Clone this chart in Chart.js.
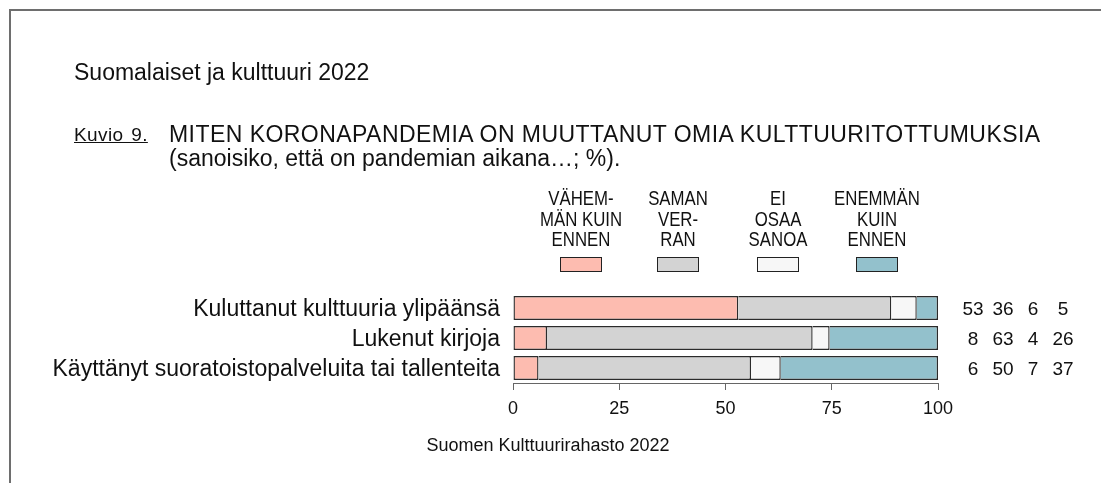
<!DOCTYPE html>
<html>
<head>
<meta charset="utf-8">
<script src="https://cdn.jsdelivr.net/npm/chart.js@4"></script>
<style>
  body { margin: 0; background: #fff; }
  #wrap { position: relative; width: 1101px; height: 483px; overflow: hidden;
          font-family: "Liberation Sans", Arial, sans-serif; color: #111; }
  #frame { position: absolute; left: 9px; top: 9px; width: 1100px; height: 480px;
           border-top: 2px solid #6e6e6e; border-left: 2px solid #6e6e6e; }
  .txt { position: absolute; white-space: nowrap; line-height: 1; }
  canvas { position: absolute; left: 0; top: 0; }
</style>
</head>
<body>
<div id="wrap">
  <div id="frame"></div>
  <canvas id="kuvio9" width="1101" height="483"></canvas>
  <div class="txt" style="left:74px; top:60.5px; font-size:23px;">Suomalaiset ja kulttuuri 2022</div>
  <div class="txt" style="left:74px; top:125px; font-size:19px; text-decoration:underline; letter-spacing:0.4px; word-spacing:2px;">Kuvio 9.</div>
  <div class="txt" style="left:169px; top:122.5px; font-size:23px; letter-spacing:0.45px;">MITEN KORONAPANDEMIA ON MUUTTANUT OMIA KULTTUURITOTTUMUKSIA</div>
  <div class="txt" style="left:169px; top:147px; font-size:23px;">(sanoisiko, että on pandemian aikana…; %).</div>
  <div class="txt" style="left:548px; top:436px; font-size:18px; transform:translateX(-50%);">Suomen Kulttuurirahasto 2022</div>
</div>
<script>
// Kysymykset (rivit)
const categories = [
  "Kuluttanut kulttuuria ylipäänsä",
  "Lukenut kirjoja",
  "Käyttänyt suoratoistopalveluita tai tallenteita",
];

// Osuudet, %
const lessThanBefore = [53, 8, 6];
const sameAsBefore = [36, 62.5, 50];
const cantSay = [6, 4, 7];
const moreThanBefore = [5, 25.5, 37];

// Selitteen otsikot
const headerLess = ["VÄHEM-", "MÄN KUIN", "ENNEN"];
const headerSame = ["SAMAN", "VER-", "RAN"];
const headerCantSay = ["EI", "OSAA", "SANOA"];
const headerMore = ["ENEMMÄN", "KUIN", "ENNEN"];

const xTicks = [0, 25, 50, 75, 100];

document.addEventListener("DOMContentLoaded", function () {
  const textFont = '"Liberation Sans", Arial, sans-serif';
  const legendCenters = [581, 678, 778, 877];

  // legend: header text above a small box, R style
  const headerPlugin = {
    id: "headers",
    afterDraw(chart) {
      const ctx = chart.ctx;
      chart.data.datasets.forEach((ds, i) => {
        const cx = legendCenters[i];
        // narrow font look: squeeze regular sans horizontally
        ctx.save();
        ctx.translate(cx, 0);
        ctx.scale(0.84, 1);
        ctx.font = "20px " + textFont;
        ctx.textAlign = "center";
        ctx.textBaseline = "alphabetic";
        ctx.fillStyle = "#111";
        ds.header.forEach((line, k) => ctx.fillText(line, 0, 205 + k * 20.5));
        ctx.restore();

        ctx.save();
        ctx.fillStyle = ds.backgroundColor;
        ctx.fillRect(cx - 21, 257, 42, 15);
        ctx.strokeStyle = "#222";
        ctx.lineWidth = 1;
        ctx.strokeRect(cx - 20.5, 257.5, 41, 14);
        ctx.restore();
      });
    },
  };

  // numbers to the right of the bars
  const valuesPlugin = {
    id: "values",
    afterDatasetsDraw(chart) {
      const ctx = chart.ctx;
      const area = chart.chartArea;
      ctx.save();
      ctx.font = "19px " + textFont;
      ctx.fillStyle = "#111";
      ctx.textAlign = "center";
      ctx.textBaseline = "middle";
      chart.data.datasets.forEach((ds, j) => {
        chart.getDatasetMeta(j).data.forEach((bar, i) => {
          ctx.fillText(String(Math.round(ds.data[i])), area.right + 35 + j * 30, bar.y + 2);
        });
      });
      ctx.restore();
    },
  };

  const barStyle = {
    borderColor: "#2b2b2b",
    borderWidth: 1.4,
    categoryPercentage: 0.8,
    barPercentage: 1,
  };

  const data = {
    labels: categories,
    datasets: [
      { label: "Vähemmän kuin ennen", header: headerLess, data: lessThanBefore,
        backgroundColor: "#FDBCB0", borderSkipped: false, ...barStyle },
      { label: "Saman verran", header: headerSame, data: sameAsBefore,
        backgroundColor: "#D3D3D3", borderSkipped: "start", ...barStyle },
      { label: "Ei osaa sanoa", header: headerCantSay, data: cantSay,
        backgroundColor: "#F7F7F7", borderSkipped: "start", ...barStyle },
      { label: "Enemmän kuin ennen", header: headerMore, data: moreThanBefore,
        backgroundColor: "#93C1CC", borderSkipped: "start", ...barStyle },
    ],
  };

  const options = {
    indexAxis: "y",
    responsive: false,
    animation: false,
    layout: { padding: { left: 0, right: 163, top: 293, bottom: 55 } },
    plugins: { legend: { display: false }, tooltip: { enabled: false } },
    scales: {
      x: {
        stacked: true,
        min: 0,
        max: 100,
        afterFit: (s) => { s.height = 45; },
        afterBuildTicks: (s) => { s.ticks = xTicks.map((v) => ({ value: v })); },
        ticks: { color: "#111", font: { family: textFont, size: 18 }, padding: 8, maxRotation: 0 },
        grid: { drawOnChartArea: false, drawTicks: true, tickLength: 7, color: "#666" },
        border: { display: true, color: "#666", width: 1 },
      },
      y: {
        stacked: true,
        afterFit: (s) => { s.width = 513; },
        ticks: { color: "#111", font: { family: textFont, size: 23 }, padding: 13, labelOffset: 2, autoSkip: false },
        grid: { display: false, drawTicks: false },
        border: { display: false },
      },
    },
  };

  new Chart(document.getElementById("kuvio9"), {
    type: "bar",
    data: data,
    options: options,
    plugins: [headerPlugin, valuesPlugin],
  });
});
</script>
</body>
</html>
